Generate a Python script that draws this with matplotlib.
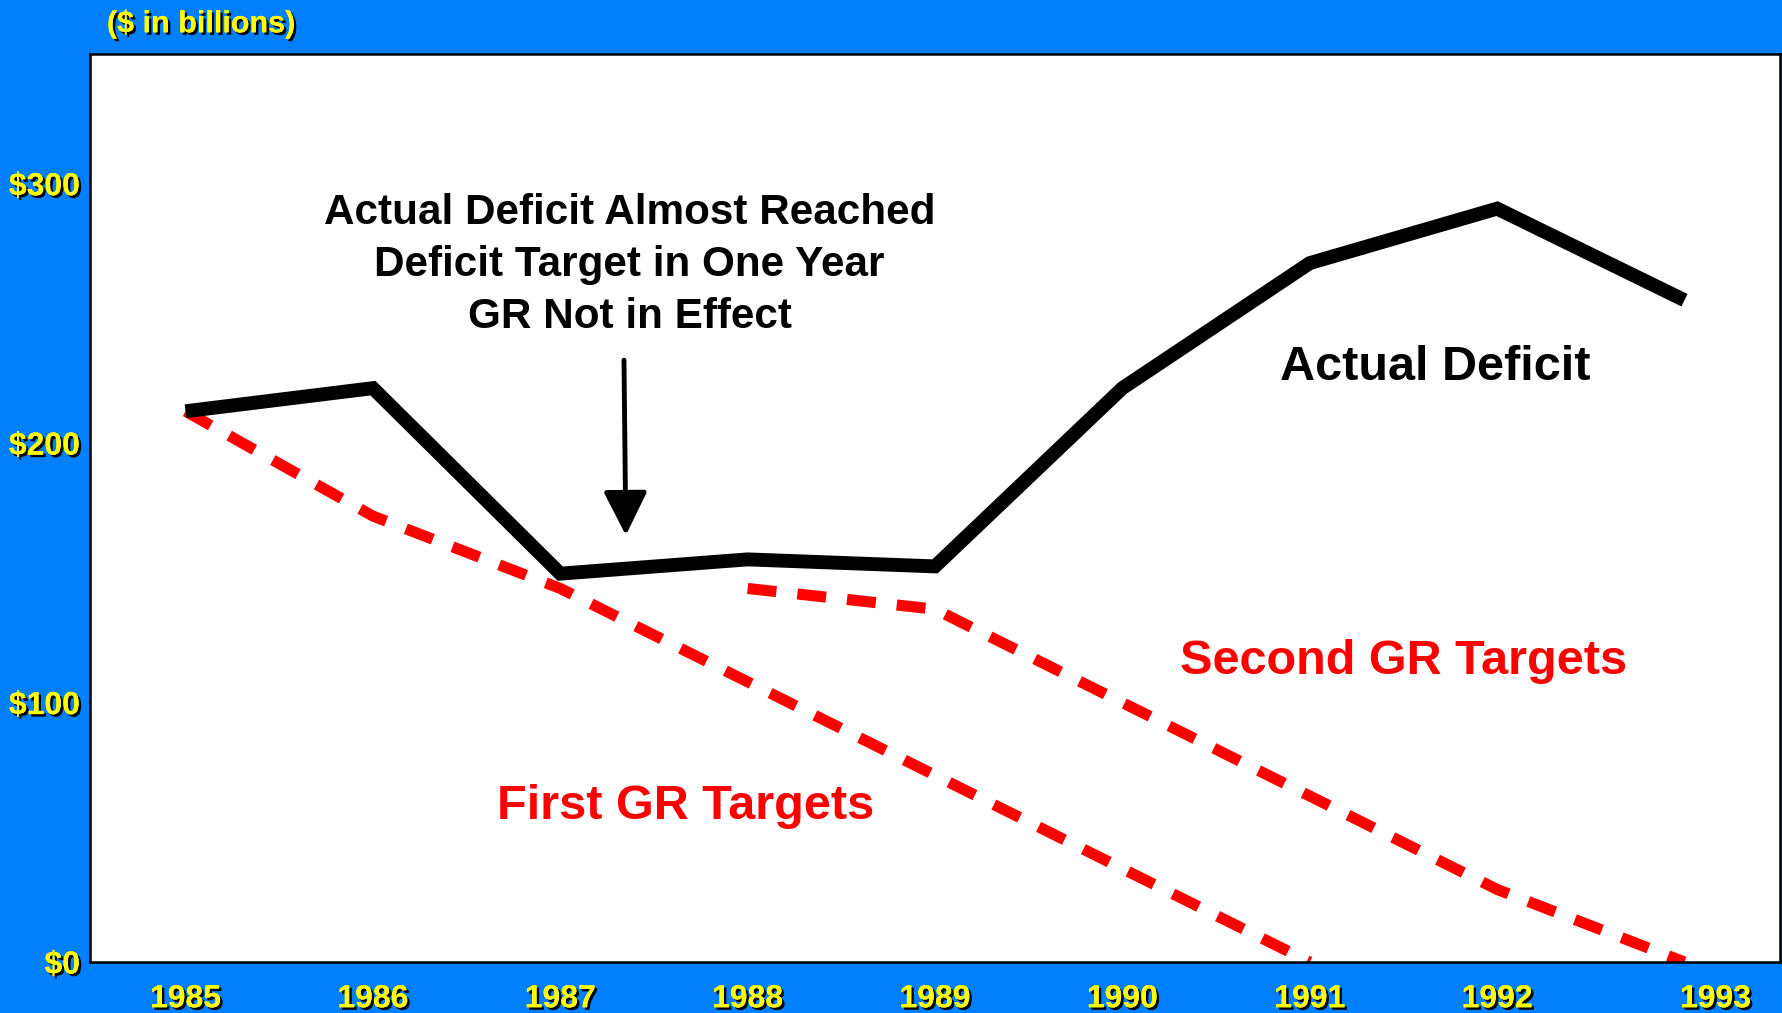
import matplotlib
matplotlib.use("Agg")
import matplotlib.pyplot as plt
import matplotlib.patheffects as pe
import matplotlib.transforms as mtransforms

years = [1985, 1986, 1987, 1988, 1989, 1990, 1991, 1992, 1993]
actual = [212.3, 221.2, 149.7, 155.2, 152.5, 221.2, 269.4, 290.4, 255.1]

first_years = [1985, 1986, 1987, 1988, 1989, 1990, 1991]
first_targets = [212.3, 171.9, 144, 108, 72, 36, 0]

second_years = [1988, 1989, 1990, 1991, 1992, 1993]
second_targets = [144, 136, 100, 64, 28, 0]

yticks = [0, 100, 200, 300]
ylabels = ["$0", "$100", "$200", "$300"]

blue = "#0080ff"
yellow = "#ffff00"
red = "#ff0000"
narrow = ["Liberation Sans Narrow", "Liberation Sans", "DejaVu Sans"]
bold = ["Liberation Sans", "DejaVu Sans"]
shadow = [pe.withSimplePatchShadow(offset=(1.8, -1.8), shadow_rgbFace="black", alpha=1), pe.Normal()]

fig = plt.figure(figsize=(17.82, 10.13), dpi=100, facecolor=blue)
ax = fig.add_axes([0.0505, 0.0503, 0.9484, 0.8964])
ax.set_facecolor("white")

ax.plot(first_years, first_targets, color=red, lw=8, dashes=(2.6, 1.9),
        dash_capstyle="butt", zorder=2)
ax.plot(second_years, second_targets, color=red, lw=8, dashes=(2.6, 1.9),
        dash_capstyle="butt", zorder=2)
ax.plot(years, actual, color="black", lw=10, solid_capstyle="butt",
        solid_joinstyle="miter", zorder=3)

ax.set_xlim(1984.49, 1993.51)
ax.set_ylim(0, 350)
ax.set_xticks(years)
ax.set_xticklabels([str(y) for y in years])
ax.set_yticks(yticks)
ax.set_yticklabels(ylabels)
ax.tick_params(length=0, colors=yellow)
ax.tick_params(axis="x", pad=16)
ax.tick_params(axis="y", pad=7)
for lab in ax.get_xticklabels() + ax.get_yticklabels():
    lab.set_family(narrow)
    lab.set_fontweight("bold")
    lab.set_fontsize(23)
    lab.set_color(yellow)
    lab.set_path_effects(shadow)
# the last year label sits a little right of its tick in the original
last = ax.get_xticklabels()[-1]
last.set_transform(last.get_transform() + mtransforms.ScaledTranslation(0.31, 0, fig.dpi_scale_trans))
for s in ax.spines.values():
    s.set_linewidth(1.8)
    s.set_color("black")

fig.text(0.06, 0.976, "($ in billions)", color=yellow, fontsize=22, fontweight="bold",
         family=bold, ha="left", va="center", path_effects=shadow)

ax.text(1987.37, 268.7, "Actual Deficit Almost Reached\nDeficit Target in One Year\nGR Not in Effect",
        ha="center", va="center", fontsize=30.4, fontweight="bold", family=bold,
        linespacing=1.39, color="black")
ax.annotate("", xy=(1987.35, 164.5), xytext=(1987.34, 232),
            arrowprops=dict(arrowstyle="-|>,head_length=1.0,head_width=0.5", lw=3.5,
                            color="black", shrinkA=0, shrinkB=0, mutation_scale=27))

ax.text(1991.67, 229, "Actual Deficit", ha="center", va="center", fontsize=35,
        fontweight="bold", family=bold, color="black")
ax.text(1991.50, 116, "Second GR Targets", ha="center", va="center", fontsize=35,
        fontweight="bold", family=bold, color=red)
ax.text(1987.67, 60, "First GR Targets", ha="center", va="center", fontsize=35,
        fontweight="bold", family=bold, color=red)

fig.savefig("out.png", dpi=100, facecolor=blue)
